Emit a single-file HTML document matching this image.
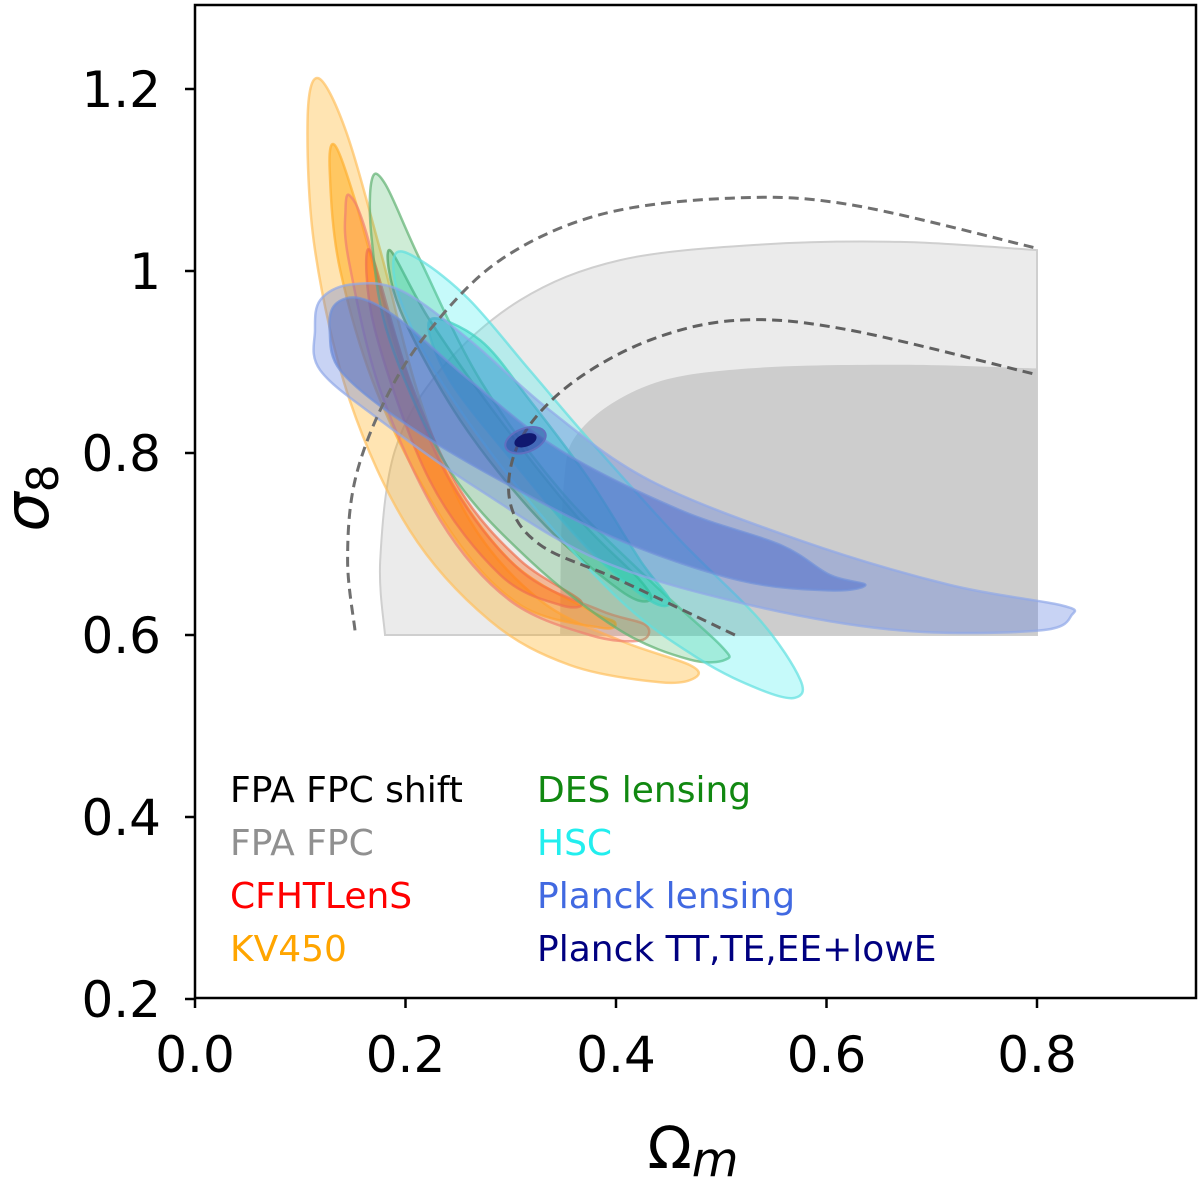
<!DOCTYPE html>
<html><head><meta charset="utf-8"><style>
html,body{margin:0;padding:0;background:#fff;}
svg{display:block;font-family:"DejaVu Sans","Liberation Sans",sans-serif;}
</style></head><body>
<svg id="chart" width="1200" height="1181" viewBox="0 0 1200 1181"></svg>
<script>
const xTicks=[0.0,0.2,0.4,0.6,0.8];
const xTickLabels=["0.0","0.2","0.4","0.6","0.8"];
const yTicks=[0.2,0.4,0.6,0.8,1.0,1.2];
const yTickLabels=["0.2","0.4","0.6","0.8","1","1.2"];
const fpaOuter=[[0.1805,0.600],[0.176,0.682],[0.190,0.803],[0.233,0.891],[0.309,0.968],[0.404,1.012],[0.537,1.029],[0.670,1.032],[0.800,1.023],[0.800,0.600]];
const fpaInner=[[0.347,0.600],[0.350,0.760],[0.366,0.825],[0.432,0.875],[0.527,0.893],[0.670,0.897],[0.800,0.893],[0.800,0.600]];
const shiftOuter=[[0.152,0.605],[0.145,0.682],[0.152,0.770],[0.1805,0.858],[0.223,0.935],[0.290,1.012],[0.385,1.062],[0.508,1.080],[0.622,1.073],[0.800,1.025]];
const shiftInner=[[0.513,0.600],[0.404,0.660],[0.328,0.699],[0.299,0.748],[0.309,0.814],[0.356,0.875],[0.432,0.924],[0.518,0.946],[0.622,0.935],[0.800,0.886]];
const kvOuter=[[0.117,1.212],[0.143,1.155],[0.176,1.023],[0.214,0.858],[0.261,0.726],[0.328,0.638],[0.404,0.594],[0.470,0.567],[0.475,0.553],[0.442,0.548],[0.356,0.567],[0.280,0.616],[0.204,0.715],[0.147,0.858],[0.114,1.023],[0.107,1.166]];
const kvInner=[[0.133,1.138],[0.152,1.078],[0.185,0.946],[0.233,0.792],[0.299,0.682],[0.375,0.627],[0.399,0.614],[0.385,0.608],[0.309,0.633],[0.242,0.715],[0.176,0.858],[0.138,1.001],[0.128,1.111]];
const cfOuter=[[0.147,1.083],[0.162,1.045],[0.195,0.902],[0.242,0.770],[0.309,0.671],[0.385,0.627],[0.428,0.611],[0.423,0.594],[0.375,0.600],[0.299,0.638],[0.233,0.726],[0.176,0.869],[0.146,1.012],[0.143,1.067]];
const cfInner=[[0.166,1.023],[0.204,0.880],[0.252,0.759],[0.309,0.682],[0.366,0.638],[0.347,0.633],[0.290,0.666],[0.223,0.770],[0.171,0.935]];
const desOuter=[[0.168,1.100],[0.181,1.095],[0.214,1.012],[0.271,0.880],[0.347,0.759],[0.432,0.660],[0.499,0.589],[0.504,0.573],[0.470,0.573],[0.404,0.605],[0.318,0.682],[0.242,0.781],[0.185,0.924],[0.168,1.034]];
const desInner=[[0.185,1.023],[0.223,0.946],[0.290,0.836],[0.366,0.726],[0.423,0.660],[0.432,0.638],[0.404,0.649],[0.328,0.726],[0.252,0.836],[0.195,0.957]];
const hscOuter=[[0.190,1.018],[0.214,1.012],[0.261,0.968],[0.318,0.891],[0.375,0.814],[0.461,0.704],[0.537,0.616],[0.575,0.551],[0.570,0.531],[0.537,0.540],[0.480,0.573],[0.404,0.638],[0.309,0.759],[0.233,0.880],[0.195,0.968]];
const hscInner=[[0.223,0.946],[0.271,0.924],[0.318,0.858],[0.375,0.770],[0.423,0.682],[0.451,0.638],[0.432,0.638],[0.375,0.693],[0.309,0.781],[0.242,0.880]];
const plOuter=[[0.119,0.968],[0.147,0.985],[0.195,0.979],[0.261,0.924],[0.337,0.847],[0.432,0.770],[0.575,0.704],[0.717,0.655],[0.822,0.633],[0.833,0.622],[0.803,0.605],[0.670,0.605],[0.527,0.633],[0.385,0.682],[0.271,0.759],[0.176,0.836],[0.119,0.891],[0.114,0.935]];
const plInner=[[0.133,0.963],[0.157,0.970],[0.195,0.946],[0.261,0.880],[0.347,0.803],[0.461,0.737],[0.556,0.699],[0.603,0.666],[0.637,0.655],[0.603,0.649],[0.518,0.660],[0.404,0.704],[0.290,0.770],[0.195,0.836],[0.138,0.891],[0.128,0.935]];
const ttCenter=[0.314,0.814];
const ttRadii=[[0.020,0.013],[0.011,0.007]];

const X0=195,XS=1052.5,Y0=89,YS=910;
const sx=v=>X0+v*XS;
const sy=v=>Y0+(1.2-v)*YS;
const svg=document.getElementById('chart');
const NS='http://www.w3.org/2000/svg';
function mk(tag,attrs,parent){const e=document.createElementNS(NS,tag);for(const k in attrs)e.setAttribute(k,attrs[k]);(parent||svg).appendChild(e);return e;}
function smooth(pts,closed){
  const p=pts.map(d=>[sx(d[0]),sy(d[1])]);const n=p.length;let s='M'+p[0][0].toFixed(1)+','+p[0][1].toFixed(1);
  const seg=closed?n:n-1;
  for(let i=0;i<seg;i++){
    const p0=p[closed?(i-1+n)%n:Math.max(i-1,0)],p1=p[i],p2=p[(i+1)%n],p3=p[closed?(i+2)%n:Math.min(i+2,n-1)];
    const c1=[p1[0]+(p2[0]-p0[0])/6,p1[1]+(p2[1]-p0[1])/6],c2=[p2[0]-(p3[0]-p1[0])/6,p2[1]-(p3[1]-p1[1])/6];
    s+='C'+c1[0].toFixed(1)+','+c1[1].toFixed(1)+' '+c2[0].toFixed(1)+','+c2[1].toFixed(1)+' '+p2[0].toFixed(1)+','+p2[1].toFixed(1);
  }
  return s+(closed?'Z':'');
}
function greyRegion(pts,fill,stroke){
  const open=pts.slice(0,pts.length-1);
  let d=smooth(open,false);const last=pts[pts.length-1];
  d+='L'+sx(last[0])+','+sy(last[1])+'Z';
  return mk('path',{d:d,fill:fill,stroke:stroke,'stroke-width':2});
}
let el;
el=greyRegion(fpaOuter,'#ebebeb','#cfcfcf');
el=greyRegion(fpaInner,'#cdcdcd','none');
function contour(pts,fill,op,stroke,name){
  const e=mk('path',{d:smooth(pts,true),fill:fill,'fill-opacity':op,stroke:stroke,'stroke-opacity':0.7,'stroke-width':2.5});
  
  
}
contour(kvOuter,'#ffa500',0.3,'#ffc060','kv450-outer');
contour(kvInner,'#ffa500',0.45,'#ffb030','kv450-inner');
contour(cfOuter,'#ff6030',0.2,'#f08070','cfhtlens-outer');
contour(cfInner,'#ff5a00',0.35,'#f07050','cfhtlens-inner');
contour(desOuter,'#22aa44',0.22,'#60b070','des-outer');
contour(desInner,'#22aa44',0.3,'#50a060','des-inner');
contour(hscOuter,'#33eeee',0.28,'#60e0e0','hsc-outer');
contour(hscInner,'#10d0c0',0.4,'#40d0c0','hsc-inner');
contour(plOuter,'#5577dd',0.32,'#90a8e8','planck-lensing-outer');
contour(plInner,'#4466cc',0.5,'#7090d8','planck-lensing-inner');
el=mk('path',{d:smooth(shiftOuter,false),fill:'none',stroke:'#707070','stroke-width':3,'stroke-dasharray':'10,6'});

el=mk('path',{d:smooth(shiftInner,false),fill:'none',stroke:'#606060','stroke-width':3,'stroke-dasharray':'10,6'});

el=mk('ellipse',{cx:sx(ttCenter[0]),cy:sy(ttCenter[1]),rx:ttRadii[0][0]*XS,ry:ttRadii[0][1]*YS,fill:'#3040a0','fill-opacity':0.5,stroke:'#6070c0','stroke-width':2,transform:'rotate(-20 '+sx(ttCenter[0])+' '+sy(ttCenter[1])+')'});

el=mk('ellipse',{cx:sx(ttCenter[0]),cy:sy(ttCenter[1]),rx:ttRadii[1][0]*XS,ry:ttRadii[1][1]*YS,fill:'#101870',transform:'rotate(-20 '+sx(ttCenter[0])+' '+sy(ttCenter[1])+')'});


el=mk('rect',{x:195,y:5,width:1001,height:993,fill:'none',stroke:'#000','stroke-width':2.5});

xTicks.forEach((v,i)=>{
  const t=mk('line',{x1:sx(v),x2:sx(v),y1:998,y2:1008,stroke:'#000','stroke-width':2.5});
  
  const l=mk('text',{x:sx(v),y:1072,'font-size':50,'text-anchor':'middle'});l.textContent=xTickLabels[i];
  
});
yTicks.forEach((v,i)=>{
  const t=mk('line',{x1:185,x2:195,y1:sy(v),y2:sy(v),stroke:'#000','stroke-width':2.5});
  
  const l=mk('text',{x:161,y:sy(v)+18,'font-size':50,'text-anchor':'end'});l.textContent=yTickLabels[i];
  
});
el=mk('text',{x:693,y:1168,'font-size':58,'text-anchor':'middle'});
el.innerHTML='Ω<tspan font-style="italic" font-size="48" dy="8">m</tspan>';

el=mk('text',{x:0,y:0,'font-size':62,'text-anchor':'middle',transform:'translate(48,498) rotate(-90)'});
el.innerHTML='<tspan font-style="italic">σ</tspan><tspan font-size="44" dy="10">8</tspan>';

const legendLabels=["FPA FPC shift","FPA FPC","CFHTLenS","KV450","DES lensing","HSC","Planck lensing","Planck TT,TE,EE+lowE"];
const legendColors=["#000000","#909090","#ff0000","#ffa500","#118811","#22eeee","#4169e1","#000080"];
legendLabels.forEach((s,i)=>{
  const col=Math.floor(i/4),row=i%4;
  const t=mk('text',{x:col?537:230,y:802+row*53,'font-size':36,fill:legendColors[i]});t.textContent=s;
  
});
</script>
</body></html>
